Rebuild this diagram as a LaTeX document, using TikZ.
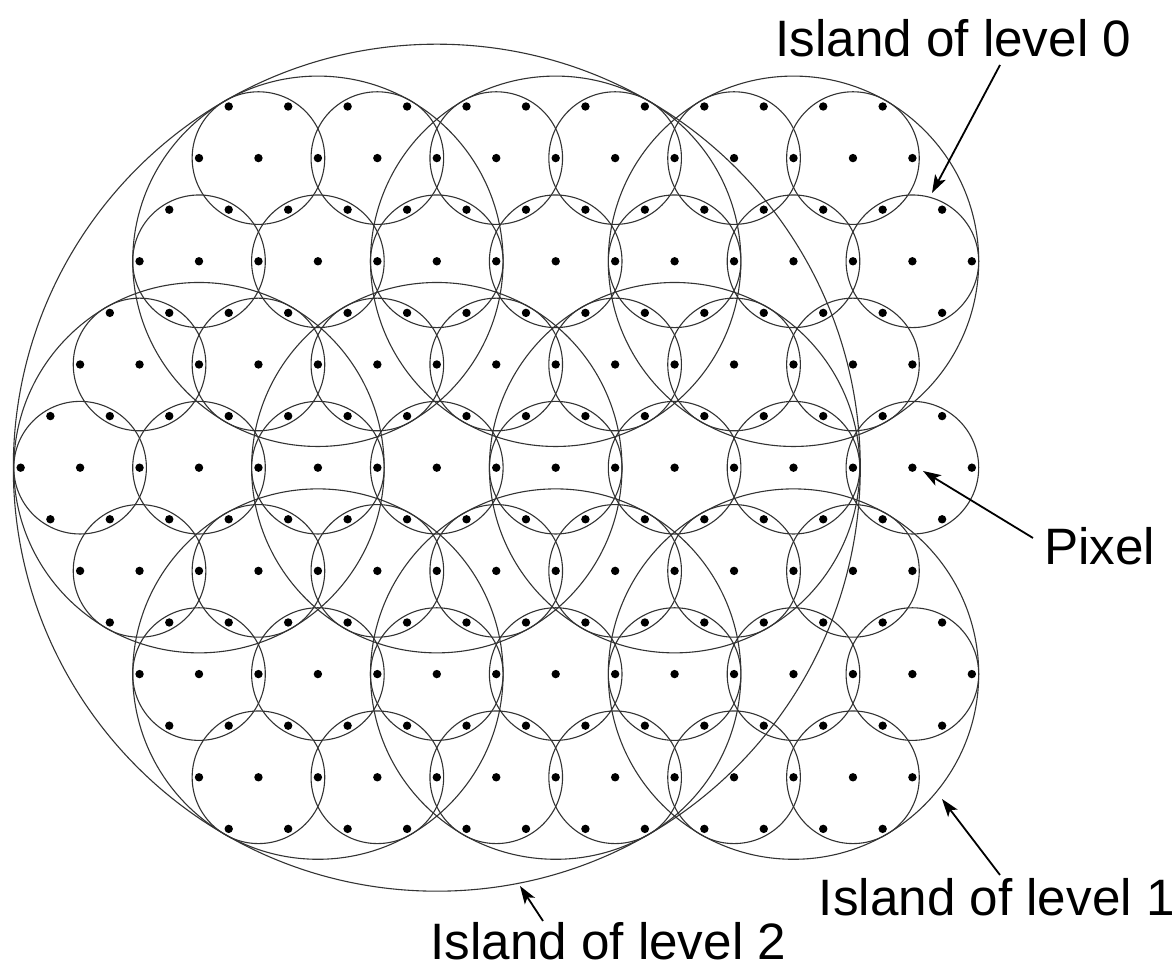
\documentclass[tikz,border=0pt]{standalone}
\usepackage{fontspec}
\setmainfont{Liberation Sans}
\usetikzlibrary{arrows.meta}
\begin{document}
\begin{tikzpicture}[x=0.5pt,y=0.5pt,
  ring/.style={draw=black!80, line width=0.55pt},
  lbl/.style={font=\fontsize{25.6pt}{30pt}\selectfont, inner sep=0pt, anchor=base west},
  arr/.style={line width=0.9pt, -{Stealth[length=9pt,width=6pt,inset=2.2pt]}}]
\useasboundingbox (0,0) rectangle (1174,972);
\def\ox{436.8}\def\oy{504.3}\def\aa{59.45}\def\hh{51.6}
\def\rzero{66.3}\def\rone{185.2}\def\rtwo{423.5}
% pixels
\foreach \r/\xa/\n in {-7/-3.5/11, -6/-4/12, -5/-4.5/13, -4/-5/14, -3/-5.5/14, -2/-6/14, -1/-6.5/15, 0/-7/16, 1/-6.5/15, 2/-6/14, 3/-5.5/14, 4/-5/14, 5/-4.5/13, 6/-4/12, 7/-3.5/11}
  \foreach \k in {0,...,\n}
    \fill ({\ox+(\xa)*\aa+\k*\aa}, {\oy-(\r)*\hh}) circle[radius=4.2];
% islands of level 0
\foreach \r/\xa/\n in {-6/-3/5, -4/-4/6, -2/-5/6, 0/-6/7, 2/-5/6, 4/-4/6, 6/-3/5}
  \foreach \k in {0,...,\n}
    \draw[ring] ({\ox+(\xa)*\aa+2*\k*\aa}, {\oy-(\r)*\hh}) circle[radius=\rzero];
% islands of level 1
\foreach \u/\r in {0/0,-4/0,4/0,-2/-4,2/-4,6/-4,-2/4,2/4,6/4}
  \draw[ring] ({\ox+(\u)*\aa}, {\oy-(\r)*\hh}) circle[radius=\rone];
% island of level 2
\draw[ring] (\ox,\oy) circle[radius=\rtwo];
% labels
\node[lbl] (lab0) at (775,915) {Island of level 0};
\node[lbl] (labpix) at (1044,407) {Pixel};
\node[lbl] (lab1) at (818.5,56) {Island of level 1};
\node[lbl] (lab2) at (430,12) {Island of level 2};
% arrows
\coordinate (t0) at (1000,907); \coordinate (h0) at (932,779);
\coordinate (tp) at (1033,434); \coordinate (hp) at (923,501);
\coordinate (t1) at (1000,97);  \coordinate (h1) at (942,173);
\coordinate (t2) at (543,51);   \coordinate (h2) at (520,86);
\draw[arr] (t0) -- (h0);
\draw[arr] (tp) -- (hp);
\draw[arr] (t1) -- (h1);
\draw[arr] (t2) -- (h2);
\end{tikzpicture}
\end{document}
